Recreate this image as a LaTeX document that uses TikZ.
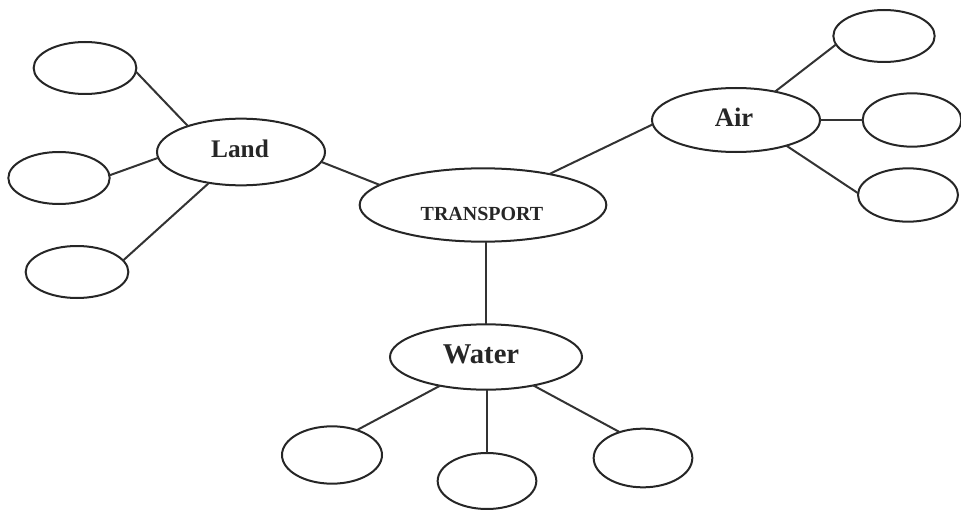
\documentclass[tikz,border=0pt]{standalone}
\usepackage{fontspec}
\setmainfont{Liberation Serif}
\usetikzlibrary{shapes.geometric}
\tikzset{
  ell/.style={ellipse, draw=black!85, line width=1.5pt, inner sep=0pt, outer sep=0pt},
  conn/.style={draw=black!80, line width=1.5pt},
  lbl/.style={font=\bfseries, text=black!85}
}
\begin{document}
\begin{tikzpicture}[x=0.75pt,y=-0.75pt]
\useasboundingbox (0,0) rectangle (961,510);
% main ellipses
\node[ell, minimum width=185pt, minimum height=55pt] (transport) at (483,205) {};
\node[lbl, font=\bfseries\fontsize{15}{15}\selectfont] at (482,214) {TRANSPORT};
\node[ell, minimum width=126pt, minimum height=50pt] (land) at (241,152) {};
\node[lbl, font=\bfseries\fontsize{19}{19}\selectfont] at (240,149) {Land};
\node[ell, minimum width=126pt, minimum height=48pt] (air) at (736,120) {};
\node[lbl, font=\bfseries\fontsize{20}{20}\selectfont] at (734,117) {Air};
\node[ell, minimum width=144pt, minimum height=49pt] (water) at (486,357) {};
\node[lbl, font=\bfseries\fontsize{21.5}{21.5}\selectfont] at (481,354) {Water};
% small ellipses
\node[ell, minimum width=77pt, minimum height=39pt] (l1) at (85,68) {};
\node[ell, minimum width=76pt, minimum height=39pt] (l2) at (59,178) {};
\node[ell, minimum width=77pt, minimum height=39pt] (l3) at (77,272) {};
\node[ell, minimum width=76pt, minimum height=39pt] (a1) at (884,36) {};
\node[ell, minimum width=74pt, minimum height=40pt] (a2) at (912,120) {};
\node[ell, minimum width=75pt, minimum height=40pt] (a3) at (908,195) {};
\node[ell, minimum width=75pt, minimum height=43pt] (w1) at (332,455) {};
\node[ell, minimum width=74pt, minimum height=42pt] (w2) at (487,481) {};
\node[ell, minimum width=74pt, minimum height=44pt] (w3) at (643,458) {};
% connectors
\draw[conn] (land.154) -- (l1.-4);
\draw[conn] (land.184) -- (l2.3);
\draw[conn] (land.224) -- (l3.14);
\draw[conn] (land.-7) -- (transport.169);
\draw[conn] (transport.25) -- (air.183);
\draw[conn] (air.36) -- (a1.190);
\draw[conn] (air.0) -- (a2.180);
\draw[conn] (air.-27) -- (a3.178);
\draw[conn] (water.north |- transport.south) -- (water.north);
\draw[conn] (water.212) -- (w1.45);
\draw[conn] (w2.north |- water.south) -- (w2.north);
\draw[conn] (water.-31) -- (w3.132);
\end{tikzpicture}
\end{document}
